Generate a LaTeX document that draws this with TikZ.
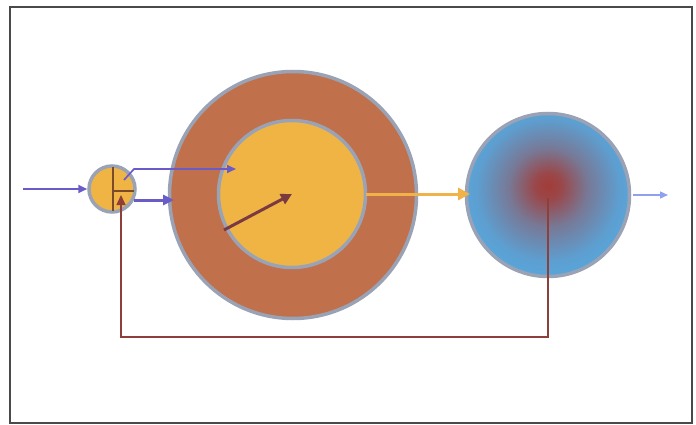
\documentclass[tikz,border=0pt]{standalone}
\usetikzlibrary{arrows.meta}
\definecolor{framec}{HTML}{4A4A4A}
\definecolor{ringc}{HTML}{C0704A}
\definecolor{corec}{HTML}{F0B445}
\definecolor{edgec}{HTML}{9AA3B5}
\definecolor{purp}{HTML}{6A5CC8}
\definecolor{fbc}{HTML}{8E3F3A}
\definecolor{orc}{HTML}{F2B24A}
\definecolor{lblue}{HTML}{8FA0EE}
\definecolor{bluec}{HTML}{55AAE2}
\definecolor{redc}{HTML}{A23C38}
\definecolor{crossc}{HTML}{7A4A2A}
\definecolor{darrc}{HTML}{7A3A40}
\pgfdeclareradialshading{sphere}{\pgfpoint{0bp}{3bp}}{color(0bp)=(redc); color(4bp)=(redc!90!bluec); color(12bp)=(bluec!55!redc); color(22bp)=(bluec!90!redc); color(30bp)=(bluec); color(50bp)=(bluec)}
\tikzset{
  disc/.style={circle, draw=edgec, line width=3.5pt, inner sep=0pt},
  purparrow/.style={draw=purp, line width=2pt, -{Triangle[length=9pt,width=8pt]}},
}
\begin{document}
\begin{tikzpicture}[x=1pt,y=-1pt]
\useasboundingbox (0,0) rectangle (696,425);
\fill[white] (0,0) rectangle (696,425);
\draw[framec, line width=1.4pt] (10,7) rectangle (692,423);

% circles
\node[disc, fill=ringc, minimum size=247pt] (big) at (293,195) {};
\node[disc, fill=corec, minimum size=147pt] (core) at (292,194) {};
\node[disc, shading=sphere, minimum size=163pt] (out) at (548,195) {};
\node[disc, fill=corec, minimum size=46pt] (sm) at (112,189) {};

% crosshair in small circle
\coordinate (ct) at (113,167);
\coordinate (cb) at (113,211);
\coordinate (cm) at (113,191);
\coordinate (cr) at (134,191);
\draw[crossc, line width=1.2pt] (ct) -- (cb) (cm) -- (cr);

% input arrow
\coordinate (src) at (23,189);
\draw[purparrow, line width=1.7pt] (src) -- (sm.west);

% upper purple arrow into core
\coordinate (u1) at (124,180);
\coordinate (u2) at (134,169);
\coordinate (u3) at (236,169);
\draw[purparrow, line width=1.7pt] (u1) -- (u2) -- (u3);

% lower purple arrow into ring
\coordinate (l1) at (134,200);
\coordinate (l2) at (174,200);
\draw[purparrow, line width=3pt, -{Triangle[length=11pt,width=10pt]}] (l1) -- (l2);

% dark arrow inside core
\coordinate (d1) at (224,230);
\draw[darrc, line width=3pt, -{Triangle[length=11pt,width=11pt]}] (d1) -- (core.center);

% orange arrow to output sphere
\coordinate (o1) at (366,194);
\coordinate (o2) at (470,194);
\draw[orc, line width=3pt, -{Triangle[length=12pt,width=12pt]}] (o1) -- (o2);

% output arrow
\coordinate (e1) at (633,195);
\coordinate (e2) at (668,195);
\draw[lblue, line width=1.3pt, -{Triangle[length=8pt,width=7pt]}] (e1) -- (e2);

% feedback
\coordinate (f1) at (548,198);
\coordinate (f2) at (548,337);
\coordinate (f3) at (121,337);
\coordinate (f4) at (121,195);
\draw[fbc, line width=1.3pt, -{Triangle[length=10pt,width=9pt]}] (f1) -- (f2) -- (f3) -- (f4);
\end{tikzpicture}
\end{document}
